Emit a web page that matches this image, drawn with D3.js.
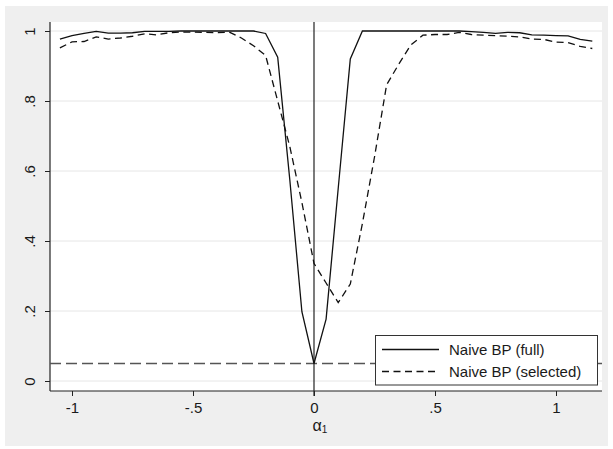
<!DOCTYPE html>
<html>
<head>
<meta charset="utf-8">
<script src="https://cdn.jsdelivr.net/npm/d3@7"></script>
<style>
  html, body { margin: 0; padding: 0; background: #ffffff; }
  svg { display: block; font-family: "Liberation Sans", Arial, sans-serif; }
</style>
</head>
<body>
<svg id="chart" width="613" height="449"></svg>
<script>
// ---- data ----
const alphaValues = [-1.05,-1.0,-0.95,-0.9,-0.85,-0.8,-0.75,-0.7,-0.65,-0.6,-0.55,-0.5,-0.45,-0.4,-0.35,-0.3,-0.25,-0.2,-0.15,-0.1,-0.05,0,
  0.05,0.1,0.15,0.2,0.25,0.3,0.35,0.4,0.45,0.5,0.55,0.6,0.65,0.7,0.75,0.8,0.85,0.9,0.95,1.0,1.05,1.1,1.15];
const fullValues = [0.977,0.987,0.993,0.999,0.994,0.994,0.995,0.999,0.999,0.999,1.0,1.0,1.0,1.0,1.0,1.0,1.0,0.993,0.925,0.575,0.198,0.05,
  0.177,0.55,0.92,1.0,1.0,1.0,1.0,1.0,1.0,1.0,1.0,1.0,0.998,0.996,0.993,0.996,0.995,0.989,0.988,0.987,0.986,0.976,0.971];
const selectedValues = [0.952,0.969,0.970,0.983,0.977,0.980,0.985,0.992,0.989,0.995,0.997,0.997,0.996,0.995,0.997,0.980,0.958,0.930,0.800,0.670,0.510,0.336,
  0.280,0.224,0.277,0.450,0.640,0.846,0.905,0.960,0.988,0.990,0.990,0.996,0.990,0.988,0.987,0.985,0.983,0.977,0.976,0.968,0.967,0.956,0.950];
const nominalLevel = [0.05];
const xTicks = [-1, -0.5, 0, 0.5, 1];
const xTickLabels = ["-1", "-.5", "0", ".5", "1"];
const yTicks = [0, 0.2, 0.4, 0.6, 0.8, 1];
const yTickLabels = ["0", ".2", ".4", ".6", ".8", "1"];
const seriesNames = ["Naive BP (full)", "Naive BP (selected)"];
const xTitle = "α";
const xTitleSub = "1";

// ---- layout ----
const svg = d3.select("#chart");
const plotL = 50, plotR = 602, plotT = 22, plotB = 391;
const FS = "15px";

svg.append("rect").attr("x", 5).attr("y", 6).attr("width", 603).attr("height", 440).attr("fill", "#efefef");
svg.append("rect").attr("x", plotL).attr("y", plotT).attr("width", plotR - plotL).attr("height", plotB - plotT).attr("fill", "#ffffff");

const x = d3.scaleLinear().domain([(plotL - 314) / 242, (plotR - 314) / 242]).range([plotL, plotR]);
const y = d3.scaleLinear().domain([-10 / 350, 359 / 350]).range([plotB, plotT]);

// gridlines
svg.append("g").selectAll("line").data(yTicks).join("line")
  .attr("x1", plotL).attr("x2", plotR)
  .attr("y1", d => y(d)).attr("y2", d => y(d))
  .attr("stroke", "#e6e6e6").attr("stroke-width", 1);

// y axis
const yAxis = d3.axisLeft(y).tickValues(yTicks).tickSize(5).tickPadding(0)
  .tickFormat((d, i) => yTickLabels[i]);
const gy = svg.append("g").attr("transform", `translate(${plotL},0)`).call(yAxis);
gy.select(".domain").attr("stroke", "#222").attr("stroke-width", 1.2)
  .attr("d", `M0,${plotT}V${plotB}`);
gy.selectAll(".tick line").attr("stroke", "#222");
gy.selectAll(".tick text")
  .attr("x", 0).attr("dy", null)
  .attr("transform", "translate(-15,0) rotate(-90)")
  .attr("text-anchor", "middle")
  .attr("fill", "#1a1a1a")
  .style("font-size", FS)
  .style("font-family", "Liberation Sans, Arial, sans-serif");

// x axis
const xAxis = d3.axisBottom(x).tickValues(xTicks).tickSize(5).tickPadding(6)
  .tickFormat((d, i) => xTickLabels[i]);
const gx = svg.append("g").attr("transform", `translate(0,${plotB})`).call(xAxis);
gx.select(".domain").attr("stroke", "#222").attr("stroke-width", 1.2)
  .attr("d", `M${plotL},0H${plotR}`);
gx.selectAll(".tick line").attr("stroke", "#222");
gx.selectAll(".tick text").attr("fill", "#1a1a1a")
  .style("font-size", FS)
  .style("font-family", "Liberation Sans, Arial, sans-serif");

// x title
const xt = svg.append("text").attr("x", x(0) + 6).attr("y", 431)
  .attr("text-anchor", "middle").attr("fill", "#1a1a1a")
  .style("font-size", "16px");
xt.append("tspan").text(xTitle);
xt.append("tspan").attr("dy", 2).style("font-size", "10px").text(xTitleSub);

// reference line at 0.05
svg.append("line").attr("x1", plotL).attr("x2", plotR)
  .attr("y1", y(nominalLevel[0])).attr("y2", y(nominalLevel[0]))
  .attr("stroke", "#555").attr("stroke-width", 1.5).attr("stroke-dasharray", "11,5");

// vertical line at 0
svg.append("line").attr("x1", x(0)).attr("x2", x(0))
  .attr("y1", plotT).attr("y2", plotB + 5)
  .attr("stroke", "#222").attr("stroke-width", 1.2);

// series
const line = d3.line().x(d => x(d[0])).y(d => y(d[1]));
const fullPts = alphaValues.map((a, i) => [a, fullValues[i]]);
const selPts = alphaValues.map((a, i) => [a, selectedValues[i]]);
svg.append("path").datum(selPts).attr("d", line).attr("fill", "none")
  .attr("stroke", "#111").attr("stroke-width", 1.3).attr("stroke-dasharray", "7,4.5");
svg.append("path").datum(fullPts).attr("d", line).attr("fill", "none")
  .attr("stroke", "#111").attr("stroke-width", 1.3);

// legend
const lg = svg.append("g");
lg.append("rect").attr("x", 375.5).attr("y", 335.5).attr("width", 222).attr("height", 49.5)
  .attr("fill", "#ffffff").attr("stroke", "#333").attr("stroke-width", 1);
const legY = [349.5, 371.5];
seriesNames.forEach((name, i) => {
  lg.append("line").attr("x1", 382).attr("x2", 439).attr("y1", legY[i]).attr("y2", legY[i])
    .attr("stroke", "#111").attr("stroke-width", 1.3)
    .attr("stroke-dasharray", i === 1 ? "7,4.5" : null);
  lg.append("text").attr("x", 449).attr("y", legY[i] + 5.5).attr("fill", "#1a1a1a")
    .style("font-size", FS).text(name);
});
</script>
</body>
</html>
